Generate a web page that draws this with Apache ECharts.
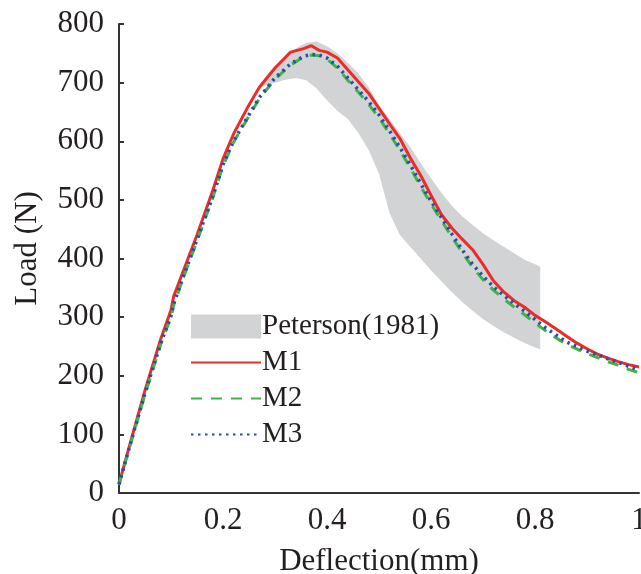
<!DOCTYPE html>
<html>
<head>
<meta charset="utf-8">
<script src="https://cdn.jsdelivr.net/npm/echarts@6/dist/echarts.min.js"></script>
<style>
  html, body { margin: 0; padding: 0; background: #fff; overflow: hidden; }
  #chart { width: 641px; height: 574px; }
</style>
</head>
<body>
<div id="chart"></div>
<script>
// deflection (mm) sample points shared by M1..M3
const deflection = [0, 0.02, 0.05, 0.08, 0.1, 0.105, 0.12, 0.15, 0.18, 0.2, 0.22, 0.25, 0.27, 0.3, 0.33, 0.355, 0.37, 0.385, 0.4, 0.42, 0.44, 0.46, 0.48, 0.5, 0.52, 0.54, 0.56, 0.58, 0.6, 0.62, 0.64, 0.66, 0.68, 0.7, 0.72, 0.74, 0.76, 0.78, 0.8, 0.82, 0.84, 0.86, 0.88, 0.9, 0.92, 0.94, 0.96, 0.98, 1.0]
const loadM1 = [15, 80, 175, 262, 312, 335, 370, 440, 515, 570, 612, 662, 692, 725, 752, 758, 763, 755, 752, 742, 722, 702, 682, 656, 630, 605, 572, 542, 508, 475, 452, 433, 415, 390, 362, 343, 328, 317, 303, 292, 280, 268, 256, 246, 237, 230, 224, 219, 215]
const loadM2 = [14, 77, 168, 253, 300, 320, 358, 430, 503, 558, 598, 643, 673, 706, 730, 744, 747, 746, 740, 725, 704, 684, 663, 640, 613, 585, 555, 523, 493, 465, 437, 410, 385, 364, 346, 331, 317, 304, 290, 277, 265, 254, 246, 238, 231, 224, 218, 211, 205]
const loadM3 = [15, 78, 170, 255, 302, 322, 360, 432, 505, 560, 600, 645, 675, 708, 732, 745, 748, 747, 742, 728, 708, 688, 668, 645, 618, 590, 560, 528, 498, 470, 442, 415, 390, 370, 352, 337, 323, 310, 296, 282, 270, 258, 250, 242, 236, 229, 223, 216, 210]

// Peterson (1981) experimental band
const petersonX = [0.27, 0.28, 0.3, 0.32, 0.34, 0.36, 0.38, 0.4, 0.42, 0.44, 0.46, 0.48, 0.5, 0.52, 0.54, 0.56, 0.58, 0.6, 0.62, 0.64, 0.66, 0.68, 0.7, 0.72, 0.74, 0.76, 0.78, 0.8, 0.81]
const petersonLow = [690, 695, 700, 705, 708, 704, 690, 670, 652, 638, 615, 585, 545, 478, 440, 420, 400, 380, 361, 343, 326, 311, 297, 285, 274, 265, 256, 248, 245]
const petersonHigh = [690, 708, 728, 745, 758, 768, 770, 762, 750, 734, 716, 692, 662, 638, 614, 590, 563, 537, 512, 490, 472, 457, 443, 431, 420, 409, 398, 390, 386]

const xTicks = [0, 0.2, 0.4, 0.6, 0.8, 1]
const yTicks = [0, 100, 200, 300, 400, 500, 600, 700, 800]

const FONT = '"Liberation Serif", "Times New Roman", serif'
const INK = '#231f20'
const BAND = '#d1d3d4'

const pairs = (xs, ys) => xs.map((x, i) => [x, ys[i]])

const chart = echarts.init(document.getElementById('chart'))

// band outline: upper edge left->right, then lower edge right->left
function renderBand(params, api) {
  const pts = []
  for (let i = 0; i < petersonX.length; i++) pts.push(api.coord([petersonX[i], petersonHigh[i]]))
  for (let i = petersonX.length - 1; i >= 0; i--) pts.push(api.coord([petersonX[i], petersonLow[i]]))
  return {
    type: 'polygon',
    shape: { points: pts },
    style: { fill: BAND, stroke: null },
  }
}

const noSymbol = { opacity: 0 }

const option = {
  backgroundColor: '#fff',
  animation: false,
  grid: { left: 119, right: 2, top: 24, bottom: 81, outerBoundsMode: 'none' },
  legend: {
    orient: 'vertical',
    left: 190,
    top: 312,
    padding: 0,
    itemWidth: 70,
    itemHeight: 24,
    itemGap: 7,
    textStyle: { fontFamily: FONT, fontSize: 29, color: INK, lineHeight: 24, padding: [0, 0, 0, -4] },
    data: [
      { name: 'Peterson(1981)', icon: 'rect' },
      { name: 'M1', itemStyle: noSymbol },
      { name: 'M2', itemStyle: noSymbol },
      { name: 'M3', itemStyle: noSymbol },
    ],
  },
  xAxis: {
    type: 'value',
    min: xTicks[0],
    max: xTicks[xTicks.length - 1],
    interval: 0.2,
    name: 'Deflection(mm)',
    nameLocation: 'middle',
    nameGap: 53,
    nameTextStyle: { fontFamily: FONT, fontSize: 31, color: INK },
    axisLine: { lineStyle: { color: '#333', width: 2 } },
    axisTick: { show: false },
    axisLabel: { fontFamily: FONT, fontSize: 31, color: INK, margin: 12 },
    splitLine: { show: false },
  },
  yAxis: {
    type: 'value',
    min: yTicks[0],
    max: yTicks[yTicks.length - 1],
    interval: 100,
    name: 'Load (N)',
    nameLocation: 'middle',
    nameRotate: 90,
    nameGap: 76,
    nameTextStyle: { fontFamily: FONT, fontSize: 31, color: INK, padding: [0, 0, 0, 20] },
    axisLine: { show: true, lineStyle: { color: '#333', width: 2 } },
    axisTick: { show: true, inside: true, length: 5, lineStyle: { color: '#333', width: 2 } },
    axisLabel: { fontFamily: FONT, fontSize: 31, color: INK, margin: 15 },
    splitLine: { show: false },
  },
  series: [
    {
      name: 'Peterson(1981)',
      type: 'custom',
      silent: true,
      color: BAND,
      itemStyle: { color: BAND },
      renderItem: renderBand,
      data: [0],
      z: 1,
    },
    {
      name: 'M1',
      type: 'line',
      symbol: 'none',
      color: '#ee2a2a',
      lineStyle: { color: '#ee2a2a', width: 3 },
      data: pairs(deflection, loadM1),
      z: 2,
    },
    {
      name: 'M2',
      type: 'line',
      symbol: 'none',
      color: '#3cb44a',
      lineStyle: { color: '#3cb44a', width: 3, type: [11, 9] },
      data: pairs(deflection, loadM2),
      z: 3,
    },
    {
      name: 'M3',
      type: 'line',
      symbol: 'none',
      color: '#2b4ea2',
      lineStyle: { color: '#2b4ea2', width: 3.5, type: [2.5, 4.5] },
      data: pairs(deflection, loadM3),
      z: 4,
    },
  ],
}

chart.setOption(option)
</script>
</body>
</html>
